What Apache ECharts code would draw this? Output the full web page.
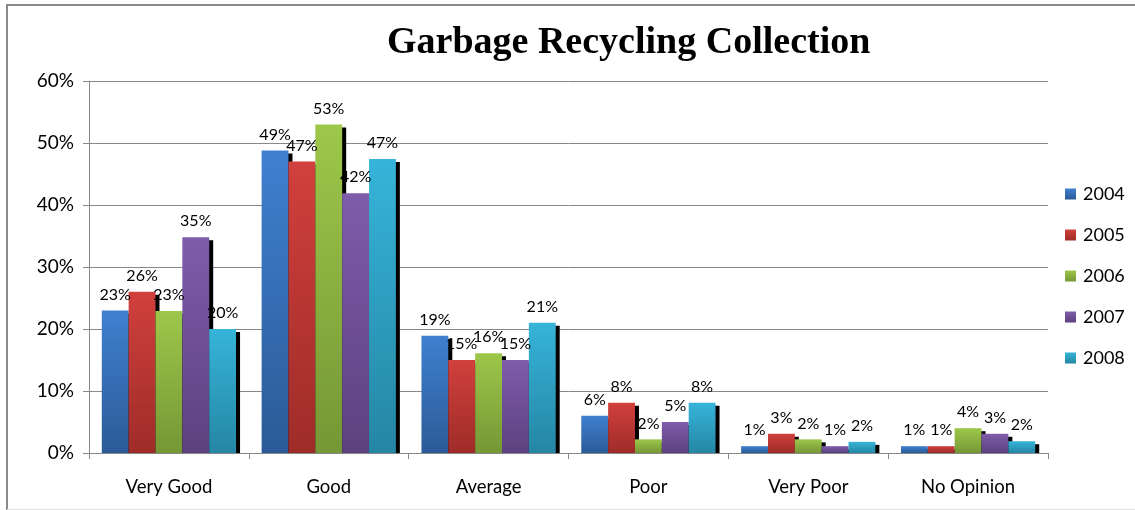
<!DOCTYPE html>
<html>
<head>
<meta charset="utf-8">
<script src="https://cdn.jsdelivr.net/npm/echarts@6/dist/echarts.min.js"></script>
<style>html,body{margin:0;padding:0;background:#fff}#c{width:1135px;height:510px}</style>
</head>
<body>
<div id="c"></div>
<script>
const categories = ['Very Good', 'Good', 'Average', 'Poor', 'Very Poor', 'No Opinion'];
const years = ['2004', '2005', '2006', '2007', '2008'];
const v2004 = [23.0, 48.8, 18.9, 6.0, 1.1, 1.1];
const v2005 = [26.0, 47.0, 15.0, 8.1, 3.1, 1.1];
const v2006 = [22.9, 53.0, 16.1, 2.2, 2.2, 4.0];
const v2007 = [34.8, 41.9, 15.0, 5.0, 1.1, 3.1];
const v2008 = [20.0, 47.4, 21.0, 8.1, 1.8, 1.9];
const yTicks = [0, 10, 20, 30, 40, 50, 60];

const values = [v2004, v2005, v2006, v2007, v2008];
const colors = [
  ['#3f80d0', '#2b5b97'],
  ['#d1403c', '#9e2c29'],
  ['#9dc74a', '#759735'],
  ['#7f5cab', '#5c417f'],
  ['#36b4d9', '#2586a4']
];
const FONT = 'Lato';

const chart = echarts.init(document.getElementById('c'), null, {renderer: 'canvas'});
chart.setOption({
  animation: false,
  backgroundColor: '#fff',
  title: {
    text: 'Garbage Recycling Collection',
    left: 382, top: 19,
    textStyle: {fontFamily: 'Liberation Serif', fontWeight: 'bold', fontSize: 38, color: '#000'}
  },
  legend: {
    orient: 'vertical', left: 1060, top: 180,
    itemWidth: 11, itemHeight: 11, itemGap: 23,
    icon: 'rect',
    data: years,
    textStyle: {fontFamily: FONT, fontSize: 18, color: '#000', lineHeight: 18, padding: [0,0,0,2]}
  },
  grid: {left: 89, right: 87, top: 81, bottom: 57, containLabel: false},
  xAxis: {
    type: 'category', data: categories, z: 10,
    axisLine: {lineStyle: {color: '#888', width: 1}},
    axisTick: {show: true, length: 6, lineStyle: {color: '#888'}},
    axisLabel: {fontFamily: FONT, fontSize: 18.5, color: '#000', margin: 25}
  },
  yAxis: {
    type: 'value', min: yTicks[0], max: yTicks[yTicks.length - 1], interval: 10,
    axisLine: {show: true, lineStyle: {color: '#888'}},
    axisTick: {show: true, length: 6, lineStyle: {color: '#888'}},
    splitLine: {lineStyle: {color: '#888', width: 1}},
    axisLabel: {fontFamily: FONT, fontSize: 19, color: '#000', margin: 15, formatter: v => v + '%'}
  },
  graphic: [
    {type: 'rect', z: 5, shape: {x: 89, y: 453.5, width: 962, height: 5}, style: {fill: '#fff'}},
    {type: 'line', shape: {x1: 6, y1: 5, x2: 1135, y2: 5}, style: {stroke: '#8a8a8a', lineWidth: 2}},
    {type: 'line', shape: {x1: 7, y1: 4, x2: 7, y2: 510}, style: {stroke: '#8a8a8a', lineWidth: 2}},
    {type: 'line', shape: {x1: 7, y1: 509.5, x2: 1135, y2: 509.5}, style: {stroke: '#e2e2e2', lineWidth: 1}}
  ],
  series: years.map((y, i) => ({
    name: y, type: 'bar', data: values[i],
    barGap: '0%', barCategoryGap: '16%',
    itemStyle: {
      color: new echarts.graphic.LinearGradient(0, 0, 0, 1, [
        {offset: 0, color: colors[i][0]}, {offset: 1, color: colors[i][1]}
      ]),
      shadowColor: '#000', shadowBlur: 0, shadowOffsetX: 4, shadowOffsetY: 3
    },
    label: {
      show: true, position: 'top', distance: 8,
      fontFamily: FONT, fontSize: 16, color: '#000',
      formatter: p => Math.round(p.value) + '%'
    }
  }))
});
</script>
</body>
</html>
